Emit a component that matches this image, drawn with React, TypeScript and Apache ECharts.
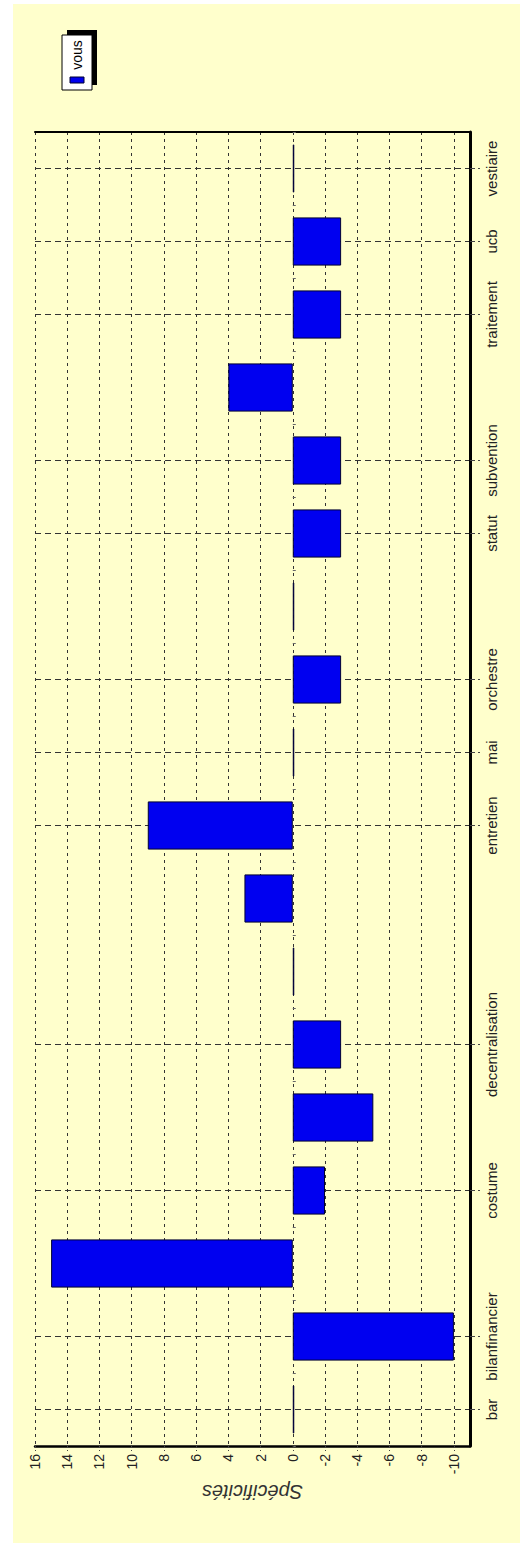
import React, { useEffect, useRef } from 'react';
import * as echarts from 'echarts';

const categories = ['bar', 'bilanfinancier', '', 'costume', '', 'decentralisation', '', '', 'entretien', 'mai', 'orchestre', '', 'statut', 'subvention', '', 'traitement', 'ucb', 'vestiaire'];
const values = [0, -10, 15, -2, -5, -3, 0, 3, 9, 0, -3, 0, -3, -3, 4, -3, -3, 0];
const valueTicks = [-10, -8, -6, -4, -2, 0, 2, 4, 6, 8, 10, 12, 14, 16];
const seriesName = 'vous';
const axisTitle = 'Spécificités';

const FONT = '"Liberation Sans", Arial, sans-serif';

export default function App() {
  const ref = useRef<HTMLDivElement>(null);
  useEffect(() => {
    if (!ref.current) return;
    const chart = echarts.init(ref.current, null, { renderer: 'svg' });
    const labeled = (_i: number, v: string) => v !== '';
    chart.setOption({
      animation: false,
      backgroundColor: '#ffffff',
      graphic: [
        { type: 'rect', z: -10, silent: true, shape: { x: 13, y: 4, width: 507, height: 1539 }, style: { fill: '#FFFFCC' } },
        {
          type: 'group', z: 100,
          children: [
            { type: 'rect', shape: { x: 67, y: 30, width: 30, height: 55 }, style: { fill: '#000' } },
            { type: 'rect', shape: { x: 62, y: 35, width: 30, height: 55 }, style: { fill: '#fff', stroke: '#000', lineWidth: 1 } },
            { type: 'rect', shape: { x: 70, y: 77, width: 14, height: 6 }, style: { fill: '#0000EE', stroke: '#000033', lineWidth: 1 } },
            { type: 'text', x: 77, y: 55, rotation: Math.PI / 2, style: { text: seriesName, fill: '#000', font: '14px "Liberation Sans", Arial, sans-serif', align: 'center', verticalAlign: 'middle' } },
          ],
        },
      ],
      grid: { left: 35, right: 50, top: 132, bottom: 100, containLabel: false },
      xAxis: [
        {
          type: 'value', inverse: true, min: -11, max: 16, position: 'bottom',
          axisLine: { show: true, onZero: false, lineStyle: { color: '#000', width: 2.5 } },
          axisTick: { show: true, customValues: valueTicks, length: 5, lineStyle: { color: '#444', type: [2, 2] } },
          axisLabel: { customValues: valueTicks, rotate: 90, margin: 8, fontSize: 14, color: '#222', fontFamily: FONT },
          splitLine: { show: true, lineStyle: { color: '#333', type: [3, 4], width: 1 } },
          name: axisTitle, nameLocation: 'middle', nameGap: 35, nameRotate: 180,
          nameTextStyle: { fontStyle: 'italic', fontSize: 20, color: '#333', fontFamily: FONT },
        },
        {
          type: 'value', inverse: true, min: -11, max: 16, position: 'top',
          axisLine: { show: true, onZero: false, lineStyle: { color: '#000', width: 2 } },
          axisTick: { show: false }, axisLabel: { show: false }, splitLine: { show: false },
        },
      ],
      yAxis: [
        {
          type: 'category', data: categories, position: 'right',
          axisLine: { show: true, onZero: false, lineStyle: { color: '#000', width: 3 } },
          axisTick: { show: true, alignWithLabel: true, interval: labeled, length: 10, lineStyle: { color: '#444', type: [5, 3] } },
          axisLabel: { interval: 0, rotate: 90, margin: 14, fontSize: 15, color: '#222', fontFamily: FONT },
          splitLine: { show: true, alignWithLabel: true, interval: labeled, lineStyle: { color: '#333', type: [6, 4] } },
        },
        {
          type: 'category', data: categories, position: 'right',
          axisLine: { show: false },
          axisTick: { show: true, interval: 0, length: 3, lineStyle: { color: '#666' } },
          axisLabel: { show: false }, splitLine: { show: false },
        },
      ],
      series: [
        {
          name: seriesName, type: 'bar', xAxisIndex: 0, yAxisIndex: 0,
          data: values, barWidth: '66%', barMinHeight: 1.5,
          itemStyle: { color: '#0000F0', borderColor: '#000033', borderWidth: 1 },
        },
      ],
    });
    return () => chart.dispose();
  }, []);
  return <div ref={ref} style={{ position: 'absolute', left: 0, top: 0, width: 520, height: 1546 }} />;
}
